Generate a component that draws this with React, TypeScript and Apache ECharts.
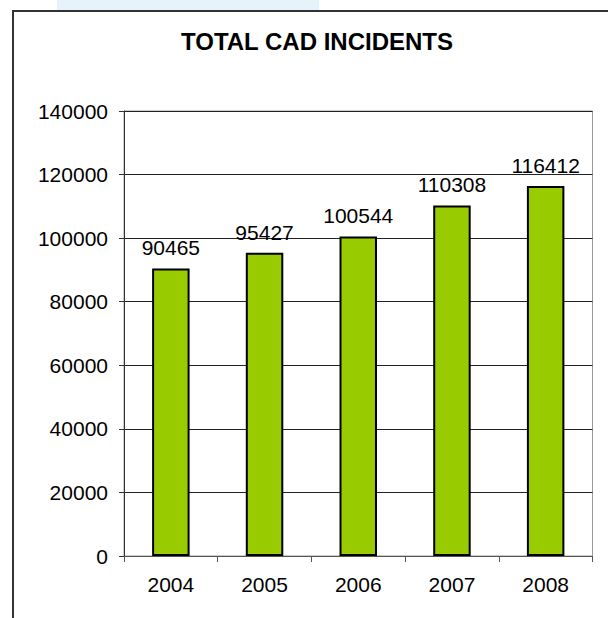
import React, { useEffect, useRef } from "react";
import * as echarts from "echarts";

const categories = ["2004", "2005", "2006", "2007", "2008"];
const incidents = [90465, 95427, 100544, 110308, 116412];
const chartTitle = "TOTAL CAD INCIDENTS";

export default function App() {
  const ref = useRef<HTMLDivElement>(null);
  useEffect(() => {
    if (!ref.current) return;
    const chart = echarts.init(ref.current, null, { renderer: "svg" });
    const font = "'Liberation Sans', Arial, sans-serif";
    chart.setOption({
      animation: false,
      backgroundColor: "#ffffff",
      title: {
        text: chartTitle,
        left: 312,
        top: 24,
        textAlign: "center",
        textStyle: { fontFamily: font, fontWeight: "bold", fontSize: 24, color: "#000" },
      },
      graphic: [
        { type: "rect", shape: { x: 57, y: 0, width: 262, height: 10 }, style: { fill: "#E6F3FB" }, silent: true },
        { type: "rect", shape: { x: 13, y: 11, width: 800, height: 800 }, style: { fill: "none", stroke: "#333", lineWidth: 2 }, silent: true },
      ],
      grid: {
        left: 124,
        top: 111,
        right: 15.5,
        bottom: 62,
        show: true,
        borderColor: "#999",
        borderWidth: 1,
        containLabel: false,
      },
      xAxis: {
        type: "category",
        data: categories,
        boundaryGap: true,
        axisLine: { lineStyle: { color: "#555", width: 1 } },
        axisTick: { show: true, length: 6, alignWithLabel: false, lineStyle: { color: "#555" } },
        axisLabel: { fontFamily: font, fontSize: 21, color: "#000", margin: 18 },
        splitLine: { show: false },
      },
      yAxis: {
        type: "value",
        min: 0,
        max: 140000,
        interval: 20000,
        axisLine: { show: true, lineStyle: { color: "#333", width: 1 } },
        axisTick: { show: true, length: 5, lineStyle: { color: "#333" } },
        axisLabel: {
          fontFamily: font,
          fontSize: 21,
          color: "#000",
          margin: 16,
          formatter: (v: number) => String(v),
        },
        splitLine: { show: true, lineStyle: { color: "#222", width: 1 } },
      },
      series: [
        {
          type: "bar",
          data: incidents,
          barWidth: "40%",
          itemStyle: { color: "#99CC00", borderColor: "#000", borderWidth: 2 },
          label: {
            show: true,
            position: "top",
            distance: 10,
            fontFamily: font,
            fontSize: 21,
            color: "#000",
          },
        },
      ],
    });
    return () => chart.dispose();
  }, []);
  return (
    <div
      ref={ref}
      style={{ position: "absolute", left: 0, top: 0, width: 608, height: 618 }}
    />
  );
}
